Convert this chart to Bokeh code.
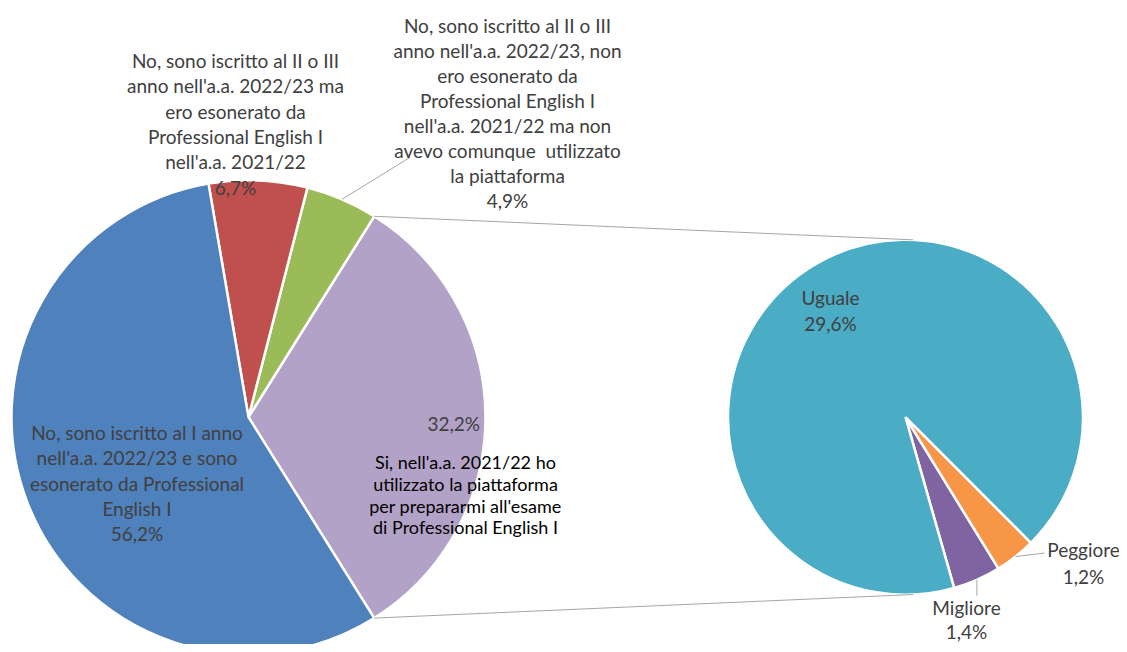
import numpy as np
from bokeh.plotting import figure
from bokeh.models import Range1d
from bokeh.core.properties import value
from bokeh.embed import file_html
from bokeh.resources import INLINE

# ---------------- data ----------------
main_categories = [
    "Si, nell'a.a. 2021/22 ho utilizzato la piattaforma per prepararmi all'esame di Professional English I",
    "No, sono iscritto al II o III anno nell'a.a. 2022/23, non ero esonerato da Professional English I nell'a.a. 2021/22 ma non avevo comunque  utilizzato la piattaforma",
    "No, sono iscritto al II o III anno nell'a.a. 2022/23 ma ero esonerato da Professional English I nell'a.a. 2021/22",
    "No, sono iscritto al I anno nell'a.a. 2022/23 e sono esonerato da Professional English I",
]
main_values = [32.2, 4.9, 6.7, 56.2]
main_colors = ["#B3A2C7", "#9BBB59", "#C0504D", "#4F81BD"]

sub_categories = ["Migliore", "Peggiore", "Uguale"]
sub_values = [1.4, 1.2, 29.6]
sub_colors = ["#8064A2", "#F79646", "#4BACC6"]

purple_text_lines = ["Si, nell'a.a. 2021/22 ho", "utilizzato la piattaforma",
                     "per prepararmi all'esame", "di Professional English I"]
green_text_lines = ["No, sono iscritto al II o III", "anno nell'a.a. 2022/23, non",
                    "ero esonerato da", "Professional English I",
                    "nell'a.a. 2021/22 ma non", "avevo comunque\u00a0 utilizzato",
                    "la piattaforma"]
red_text_lines = ["No, sono iscritto al II o III", "anno nell'a.a. 2022/23 ma",
                  "ero esonerato da", "Professional English I", "nell'a.a. 2021/22"]
blue_text_lines = ["No, sono iscritto al I anno", "nell'a.a. 2022/23 e sono",
                   "esonerato da Professional", "English I"]


def pct(v):
    return f"{v:.1f}".replace(".", ",") + "%"


# ---------------- layout ----------------
W, H = 1119, 644
REF_H = 652


def Y(yref):
    return REF_H - yref


p = figure(width=W, height=H, output_backend="svg", toolbar_location=None,
           x_axis_type=None, y_axis_type=None, min_border=0,
           x_range=Range1d(0, W), y_range=Range1d(REF_H - H, REF_H))
p.outline_line_color = None
p.grid.visible = False
p.background_fill_color = "white"

FONT = value("Lato")
GRAY = "#404040"

# main pie
c1x, c1y, r1 = 248.0, Y(416.7), 237.0
mv = np.array(main_values)
a0 = -mv[0] / 100 * np.pi
edges1 = a0 + np.concatenate([[0], np.cumsum(mv)]) / 100 * 2 * np.pi
p.wedge(x=[c1x] * 4, y=[c1y] * 4, radius=r1,
        start_angle=list(edges1[:-1]), end_angle=list(edges1[1:]),
        fill_color=main_colors, line_color="white", line_width=2.5)

# secondary pie
c2x, c2y, r2 = 905.0, Y(416.7), 177.5
sv = np.array(sub_values)
b0 = np.deg2rad(-74.1)
edges2 = b0 + np.concatenate([[0], np.cumsum(sv)]) / sv.sum() * 2 * np.pi
p.wedge(x=[c2x] * 3, y=[c2y] * 3, radius=r2,
        start_angle=list(edges2[:-1]), end_angle=list(edges2[1:]),
        fill_color=sub_colors, line_color="white", line_width=2.5)

# connector lines (from the split slice edges to tangents of the second pie)
LINE = "#A6A6A6"
for ang, sign in [(edges1[1], 1), (edges1[0], -1)]:
    px_, py_ = c1x + r1 * np.cos(ang), c1y + r1 * np.sin(ang)
    dx, dy = px_ - c2x, py_ - c2y
    d = np.hypot(dx, dy)
    phi = np.arctan2(dy, dx)
    t = phi - sign * np.arccos(r2 / d)
    p.line([px_, c2x + r2 * np.cos(t)], [py_, c2y + r2 * np.sin(t)],
           line_color=LINE, line_width=1)

# leader lines
gmid = (edges1[1] + edges1[2]) / 2
gx, gy = c1x + r1 * np.cos(gmid), c1y + r1 * np.sin(gmid)
p.line([gx, gx + 68], [gy, gy + 42], line_color=LINE, line_width=1)

mmid = (edges2[0] + edges2[1]) / 2
mx, my = c2x + r2 * np.cos(mmid), c2y + r2 * np.sin(mmid)
p.line([mx, mx], [my, my - 16], line_color=LINE, line_width=1)

pmid = (edges2[1] + edges2[2]) / 2
qx, qy = c2x + r2 * np.cos(pmid), c2y + r2 * np.sin(pmid)
p.line([qx, qx + 29], [qy, qy + 3.5], line_color=LINE, line_width=1)


def block(lines, cx, y_first, step, color, size):
    ys = [Y(y_first + i * step) for i in range(len(lines))]
    p.text(x=[cx] * len(lines), y=ys, text=lines, text_align="center",
           text_baseline="middle", text_color=color, text_font=FONT,
           text_font_size=size)


FS = "19px"
block(blue_text_lines + [pct(main_values[3])], 136.5, 431.7, 25.4, GRAY, FS)
block(red_text_lines + [pct(main_values[2])], 235, 60, 25.3, GRAY, FS)
block(green_text_lines + [pct(main_values[1])], 507, 25, 25.0, GRAY, FS)
block([pct(main_values[0])], 453.3, 422.7, 25, GRAY, FS)
block(purple_text_lines, 465, 461.7, 21.7, "#000000", "18px")
block([sub_categories[2], pct(sub_values[2])], 830, 296.7, 26.6, GRAY, FS)
block([sub_categories[1], pct(sub_values[1])], 1083, 549.3, 26.6, GRAY, FS)
block([sub_categories[0], pct(sub_values[0])], 966, 607, 24, GRAY, FS)

open("out.html", "w").write(file_html(p, INLINE))
